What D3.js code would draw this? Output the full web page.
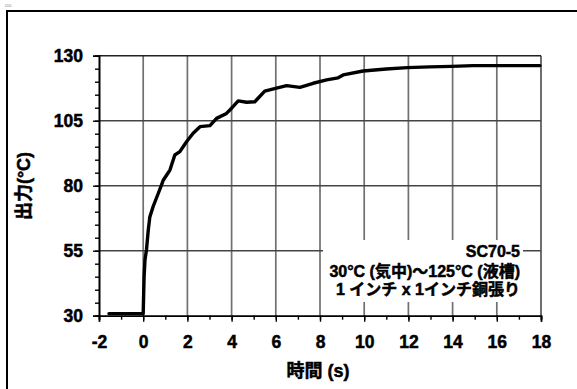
<!DOCTYPE html>
<html>
<head>
<meta charset="utf-8">
<script src="https://cdn.jsdelivr.net/npm/d3@7/dist/d3.min.js"></script>
<style>
  html, body { margin: 0; padding: 0; background: #fff; }
  svg { display: block; }
  text { font-family: "Liberation Sans", Arial, "Noto Sans CJK JP", sans-serif; font-weight: bold; fill: #000; }
  .heavy { stroke: #000; stroke-width: 0.5px; }
</style>
</head>
<body>
<div id="chart"></div>
<script>
// Step response of the SC70-5 output: time (s) vs. output (°C)
const timeS = [-1.55, -1.0, -0.5, 0.0, 0.02, 0.04, 0.08, 0.15, 0.23, 0.30, 0.45, 0.68, 0.83, 0.90,
  1.13, 1.21, 1.43, 1.66, 1.96, 2.26, 2.57, 3.02, 3.32, 3.77, 4.00, 4.30, 4.68, 5.05, 5.50,
  6.03, 6.49, 7.09, 7.69, 8.30, 8.82, 9.05, 9.95, 11.0, 11.95, 12.97, 13.95, 14.93, 15.95, 16.9, 17.95];
const outputC = [30.8, 30.8, 30.8, 30.8, 38, 45, 51.4, 55.5, 63, 68, 72, 77, 80.3, 82,
  85, 86, 91.8, 93.1, 96.9, 100.2, 102.7, 103.1, 105.9, 107.8, 109.8, 112.6, 112.1, 112.3, 116.4,
  117.5, 118.5, 117.8, 119.4, 120.7, 121.5, 122.6, 124.1, 124.9, 125.4, 125.7, 125.9, 126.2, 126.2, 126.2, 126.2];

const xTicks = [-2, 0, 2, 4, 6, 8, 10, 12, 14, 16, 18];
const yTicks = [30, 55, 80, 105, 130];
const xMinor = d3.range(-2, 18.01, 1);
const yMinor = d3.range(30, 130.01, 5);

const xTitle = "時間 (s)";
const yTitle = "出力(°C)";
const noteLines = ["SC70-5", "30°C (気中)～125°C (液槽)", "1 インチ x 1インチ銅張り"];

const W = 577, H = 389;
const plot = { left: 99, right: 541, top: 55.7, bottom: 315.7 };
const FONT = '"Liberation Sans", Arial, "Noto Sans CJK JP", sans-serif';

const svg = d3.select("#chart").append("svg").attr("width", W).attr("height", H);

// small mark at the top-left corner
svg.append("text").attr("x", 5).attr("y", 7).attr("font-size", 6).style("fill", "#999").style("font-weight", "normal").text("oo");

// outer frame (continues past the right and bottom edges)
svg.append("rect").attr("x", 7).attr("y", 11).attr("width", 620).attr("height", 420)
  .attr("fill", "none").attr("stroke", "#000").attr("stroke-width", 2);

const x = d3.scaleLinear().domain([-2, 18]).range([plot.left, plot.right]);
const y = d3.scaleLinear().domain([30, 130]).range([plot.bottom, plot.top]);

// grid
const grid = svg.append("g");
grid.selectAll("line.v").data(xTicks.filter(d => d > -2)).join("line")
  .attr("x1", d => x(d)).attr("x2", d => x(d)).attr("y1", y(30)).attr("y2", y(130))
  .attr("stroke", d => d === 18 ? "#555" : "#707070").attr("stroke-width", 1.7);
grid.selectAll("line.h").data(yTicks.filter(d => d > 30)).join("line")
  .attr("x1", x(-2)).attr("x2", x(18)).attr("y1", d => y(d)).attr("y2", d => y(d))
  .attr("stroke", d => d === 130 ? "#222" : "#444").attr("stroke-width", 1.5);

// note box over the grid
svg.append("rect").attr("x", 323).attr("y", 240).attr("width", 200).attr("height", 62).attr("fill", "#fff");
const note = svg.append("g").attr("text-anchor", "end");
noteLines.forEach((t, i) => {
  note.append("text").attr("class", "heavy").attr("x", 520).attr("y", [257, 277, 295][i])
    .style("font-size", "16px").style("font-weight", "bold").text(t);
});

// series
const line = d3.line().x((d, i) => x(timeS[i])).y(d => y(d));
svg.append("path").datum(outputC).attr("d", line)
  .attr("fill", "none").attr("stroke", "#000").attr("stroke-width", 3.4)
  .attr("stroke-linejoin", "round").attr("stroke-linecap", "round");

// axes
const yAxis = svg.append("g").attr("transform", `translate(${plot.left},0)`)
  .call(d3.axisLeft(y).tickValues(yTicks).tickSize(6).tickPadding(10).tickFormat(d3.format("d")));
const yMin = svg.append("g").attr("transform", `translate(${plot.left},0)`)
  .call(d3.axisLeft(y).tickValues(yMinor).tickSize(4).tickFormat(""));
const xAxis = svg.append("g").attr("transform", `translate(0,${plot.bottom})`)
  .call(d3.axisBottom(x).tickValues(xTicks).tickSize(6).tickPadding(14).tickFormat(d3.format("d")));
const xMin = svg.append("g").attr("transform", `translate(0,${plot.bottom})`)
  .call(d3.axisBottom(x).tickValues(xMinor).tickSize(4).tickFormat(""));

[yAxis, yMin, xAxis, xMin].forEach(g => {
  g.attr("font-family", null).attr("font-size", null);
  g.select(".domain").attr("stroke", "#000").attr("stroke-width", 1.6);
  g.selectAll(".tick line").attr("stroke", "#000").attr("stroke-width", 1.4);
  g.selectAll(".tick text").attr("class", "heavy")
    .style("font-family", FONT).style("font-weight", "bold").style("font-size", "17.5px").style("fill", "#000");
});
xAxis.selectAll(".tick text").text(d => d < 0 ? "-" + Math.abs(d) : d);

// titles
svg.append("text").attr("class", "heavy").attr("x", 318).attr("y", 377).attr("text-anchor", "middle")
  .style("font-size", "18px").style("font-weight", "bold").text(xTitle);
svg.append("text").attr("class", "heavy").attr("transform", "translate(30,186) rotate(-90)").attr("text-anchor", "middle")
  .style("font-size", "18px").style("font-weight", "bold").text(yTitle);
</script>
</body>
</html>
